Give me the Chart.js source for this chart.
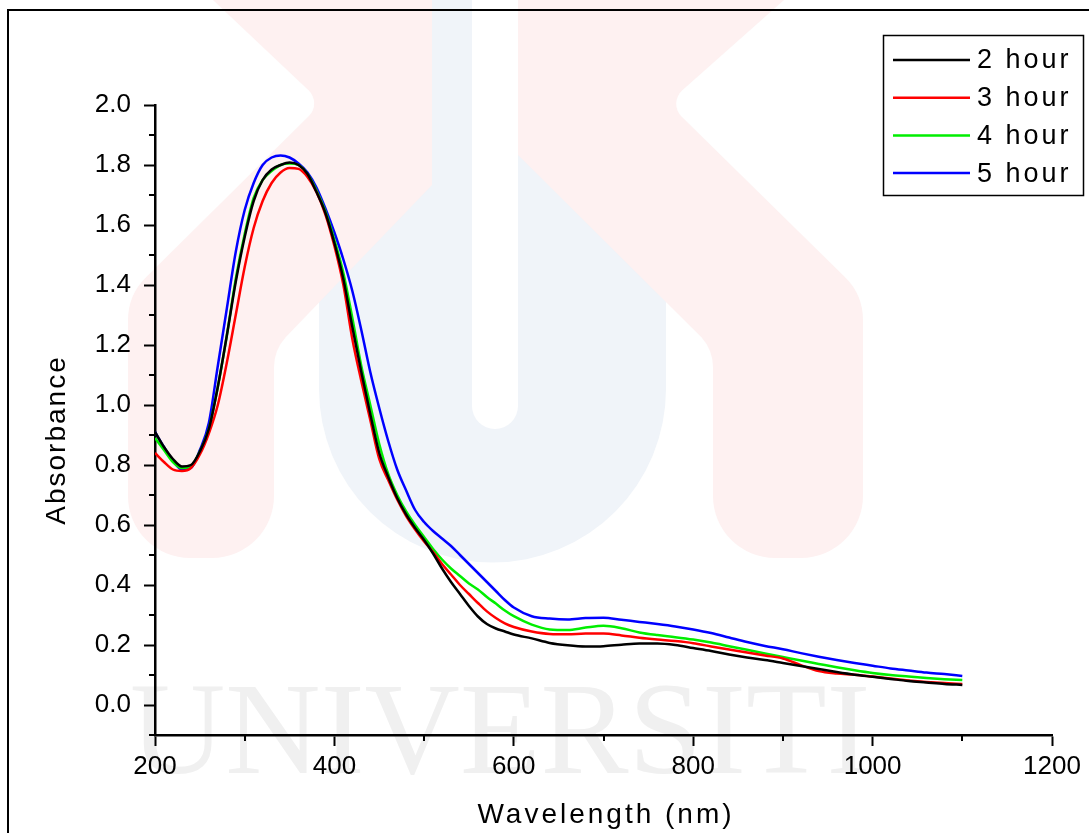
<!DOCTYPE html>
<html>
<head>
<meta charset="utf-8">
<script src="https://cdn.jsdelivr.net/npm/chart.js@4.4.0/dist/chart.umd.min.js"></script>
<style>
  html, body { margin: 0; padding: 0; background: #fff; overflow: hidden; }
  #wrap { width: 1089px; height: 833px; position: relative; }
</style>
</head>
<body>
<div id="wrap"><canvas id="c"></canvas></div>
<script>
// UV-vis absorbance spectra

var wavelength = [200,210,220,230,240,250,260,270,280,290,300,310,320,330,340,350,360,370,380,390,
  400,410,420,430,440,450,460,470,480,490,500,510,520,530,540,550,560,570,580,590,600,
  620,640,660,680,700,720,740,760,780,800,820,840,860,880,900,920,940,960,980,1000,1020,1040,1060,1080,1100];

var hour2 = [0.91,0.86,0.82,0.795,0.80,0.845,0.92,1.06,1.23,1.41,1.56,1.68,1.75,1.785,1.80,1.808,1.80,1.77,1.71,1.64,
  1.54,1.42,1.26,1.11,0.97,0.84,0.76,0.69,0.635,0.59,0.55,0.505,0.455,0.41,0.37,0.33,0.295,0.27,0.255,0.245,0.235,
  0.222,0.207,0.199,0.195,0.196,0.201,0.205,0.205,0.200,0.190,0.180,0.168,0.158,0.150,0.140,0.130,0.120,0.110,0.101,0.094,0.087,0.080,0.075,0.070,0.067];

var hour3 = [0.84,0.81,0.785,0.78,0.79,0.835,0.905,1.00,1.14,1.30,1.46,1.59,1.68,1.74,1.775,1.79,1.787,1.76,1.71,1.635,
  1.53,1.40,1.22,1.08,0.95,0.82,0.75,0.685,0.63,0.585,0.545,0.51,0.47,0.435,0.40,0.37,0.34,0.312,0.29,0.272,0.26,
  0.245,0.237,0.236,0.238,0.238,0.232,0.224,0.218,0.213,0.206,0.195,0.185,0.175,0.165,0.155,0.133,0.113,0.105,0.101,0.095,0.088,0.082,0.077,0.073,0.070];

var hour4 = [0.89,0.85,0.81,0.79,0.795,0.845,0.92,1.06,1.23,1.42,1.57,1.69,1.75,1.78,1.80,1.805,1.80,1.77,1.715,1.645,
  1.55,1.44,1.29,1.13,1.00,0.87,0.77,0.70,0.645,0.60,0.56,0.52,0.485,0.455,0.43,0.405,0.385,0.36,0.338,0.315,0.296,
  0.268,0.252,0.250,0.258,0.264,0.256,0.242,0.233,0.226,0.218,0.208,0.196,0.184,0.172,0.160,0.148,0.137,0.126,0.116,0.107,0.100,0.095,0.090,0.086,0.083];

var hour5 = [0.91,0.86,0.815,0.785,0.79,0.85,0.94,1.13,1.32,1.51,1.65,1.74,1.80,1.825,1.832,1.825,1.805,1.775,1.725,1.655,
  1.575,1.485,1.38,1.25,1.11,0.99,0.88,0.785,0.715,0.65,0.61,0.58,0.555,0.53,0.50,0.47,0.44,0.41,0.38,0.35,0.325,
  0.296,0.288,0.285,0.290,0.291,0.284,0.277,0.270,0.262,0.252,0.240,0.225,0.210,0.197,0.186,0.173,0.161,0.150,0.140,0.131,0.122,0.115,0.108,0.103,0.097];

var seriesLabels = ["2 hour", "3 hour", "4 hour", "5 hour"];
var seriesColors = ["#000000", "#ff0000", "#00ee00", "#0000ff"];

var xTicks = [200, 400, 600, 800, 1000, 1200];
var xMinor = [300, 500, 700, 900, 1100];
var yTicks = [0.0, 0.2, 0.4, 0.6, 0.8, 1.0, 1.2, 1.4, 1.6, 1.8, 2.0];
var yMinor = [-0.1, 0.1, 0.3, 0.5, 0.7, 0.9, 1.1, 1.3, 1.5, 1.7, 1.9];

var FONT = "'Liberation Sans', Arial, sans-serif";

function pts(ys) {
  return wavelength.map(function(x, i) { return { x: x, y: ys[i] }; });
}

// faint university logo + frame behind the plot
var backdrop = {
  id: "backdrop",
  beforeDraw: function(chart) {
    var ctx = chart.ctx;
    ctx.save();
    ctx.fillStyle = "#ffffff";
    ctx.fillRect(0, 0, chart.width, chart.height);

    // blue U
    ctx.fillStyle = "rgb(240,244,249)";
    ctx.beginPath();
    ctx.moveTo(319, 0);
    ctx.lineTo(319, 389);
    ctx.arc(492.5, 389, 173.5, Math.PI, 0, true);
    ctx.lineTo(666, 0);
    ctx.lineTo(518, 0);
    ctx.lineTo(518, 406);
    ctx.arc(495, 406, 23, 0, Math.PI, false);
    ctx.lineTo(472, 0);
    ctx.closePath();
    ctx.fill();

    // pink arms
    ctx.fillStyle = "rgb(254,241,241)";
    ctx.beginPath();
    ctx.moveTo(213, 0);
    ctx.arcTo(322, 103, 300, 125, 18);
    ctx.arcTo(128, 295, 128, 340, 60);
    ctx.arcTo(128, 558, 190, 558, 62);
    ctx.arcTo(274, 558, 274, 490, 62);
    ctx.arcTo(274, 350, 320, 300, 45);
    ctx.lineTo(432, 185);
    ctx.lineTo(432, 0);
    ctx.closePath();
    ctx.fill();

    ctx.beginPath();
    ctx.moveTo(784, 0);
    ctx.arcTo(668, 103, 690, 125, 18);
    ctx.arcTo(863, 295, 863, 340, 60);
    ctx.arcTo(863, 558, 800, 558, 62);
    ctx.arcTo(713, 558, 713, 490, 62);
    ctx.arcTo(713, 350, 668, 300, 45);
    ctx.lineTo(518, 155);
    ctx.lineTo(518, 0);
    ctx.closePath();
    ctx.fill();

    ctx.fillStyle = "rgb(240,240,240)";
    ctx.font = "132px 'Liberation Serif', 'Times New Roman', serif";
    ctx.textBaseline = "alphabetic";
    ctx.textAlign = "left";
    ctx.fillText("UNIVERSITI", 130, 773);

    // outer frame (left and top edges visible)
    ctx.strokeStyle = "#000";
    ctx.lineWidth = 2;
    ctx.beginPath();
    ctx.moveTo(8, 833);
    ctx.lineTo(8, 10);
    ctx.lineTo(1089, 10);
    ctx.stroke();
    ctx.restore();
  }
};

// minor ticks, axis titles, boxed legend
var decor = {
  id: "decor",
  afterDraw: function(chart) {
    var ctx = chart.ctx, xs = chart.scales.x, ys = chart.scales.y;
    var a = chart.chartArea;
    ctx.save();
    ctx.strokeStyle = "#000";
    ctx.lineWidth = 2;
    ctx.beginPath();
    xMinor.forEach(function(v) {
      var p = Math.round(xs.getPixelForValue(v));
      ctx.moveTo(p, a.bottom);
      ctx.lineTo(p, a.bottom + 6);
    });
    yMinor.forEach(function(v) {
      var p = Math.round(ys.getPixelForValue(v));
      ctx.moveTo(a.left, p);
      ctx.lineTo(a.left - 6, p);
    });
    ctx.stroke();

    ctx.fillStyle = "#000";
    ctx.textAlign = "center";
    ctx.textBaseline = "middle";
    ctx.font = "28px " + FONT;
    ctx.letterSpacing = "3px";
    ctx.fillText("Wavelength (nm)", 606, 815);

    ctx.save();
    ctx.translate(57, 440);
    ctx.rotate(-Math.PI / 2);
    ctx.letterSpacing = "2px";
    ctx.fillText("Absorbance", 0, 0);
    ctx.restore();

    // legend
    ctx.lineWidth = 1.5;
    ctx.strokeStyle = "#000";
    ctx.strokeRect(883.5, 35.5, 200, 160);
    ctx.font = "27px " + FONT;
    ctx.textAlign = "left";
    ctx.letterSpacing = "3px";
    chart.data.datasets.forEach(function(ds, i) {
      var y = 60 + i * 37.7;
      ctx.strokeStyle = ds.borderColor;
      ctx.lineWidth = 2.5;
      ctx.beginPath();
      ctx.moveTo(893, y);
      ctx.lineTo(970, y);
      ctx.stroke();
      ctx.fillStyle = "#000";
      ctx.fillText(ds.label, 977, y + 1);
    });
    ctx.restore();
  }
};

var datasets = [hour2, hour3, hour4, hour5].map(function(ys, i) {
  return {
    label: seriesLabels[i],
    data: pts(ys),
    borderColor: seriesColors[i],
    backgroundColor: seriesColors[i],
    borderWidth: 2.5,
    pointRadius: 0,
    tension: 0.4,
    cubicInterpolationMode: "monotone",
    fill: false
  };
});

function axisGrid() {
  return { display: true, drawOnChartArea: false, drawTicks: true, tickLength: 11, tickWidth: 2, tickColor: "#000" };
}

new Chart(document.getElementById("c").getContext("2d"), {
  type: "line",
  data: { datasets: datasets },
  options: {
    responsive: true,
    maintainAspectRatio: false,
    animation: false,
    devicePixelRatio: 1,
    layout: { padding: { top: 105, right: 37, left: 0, bottom: 0 } },
    plugins: { legend: { display: false }, tooltip: { enabled: false } },
    scales: {
      x: {
        type: "linear",
        min: 200, max: 1200,
        grid: axisGrid(),
        border: { display: true, color: "#000", width: 2.5 },
        afterBuildTicks: function(s) { s.ticks = xTicks.map(function(v) { return { value: v }; }); },
        afterFit: function(s) { s.height = 98; },
        ticks: {
          color: "#000", padding: 5, maxRotation: 0, autoSkip: false,
          font: { family: FONT, size: 26 },
          callback: function(v) { return String(v); }
        }
      },
      y: {
        type: "linear",
        min: -0.1, max: 2.0,
        grid: axisGrid(),
        border: { display: true, color: "#000", width: 2.5 },
        afterBuildTicks: function(s) { s.ticks = yTicks.map(function(v) { return { value: v }; }); },
        afterFit: function(s) { s.width = 155; },
        ticks: {
          color: "#000", padding: 13, autoSkip: false,
          font: { family: FONT, size: 26 },
          callback: function(v) { return v.toFixed(1); }
        }
      }
    }
  },
  plugins: [backdrop, decor]
});
</script>
</body>
</html>
